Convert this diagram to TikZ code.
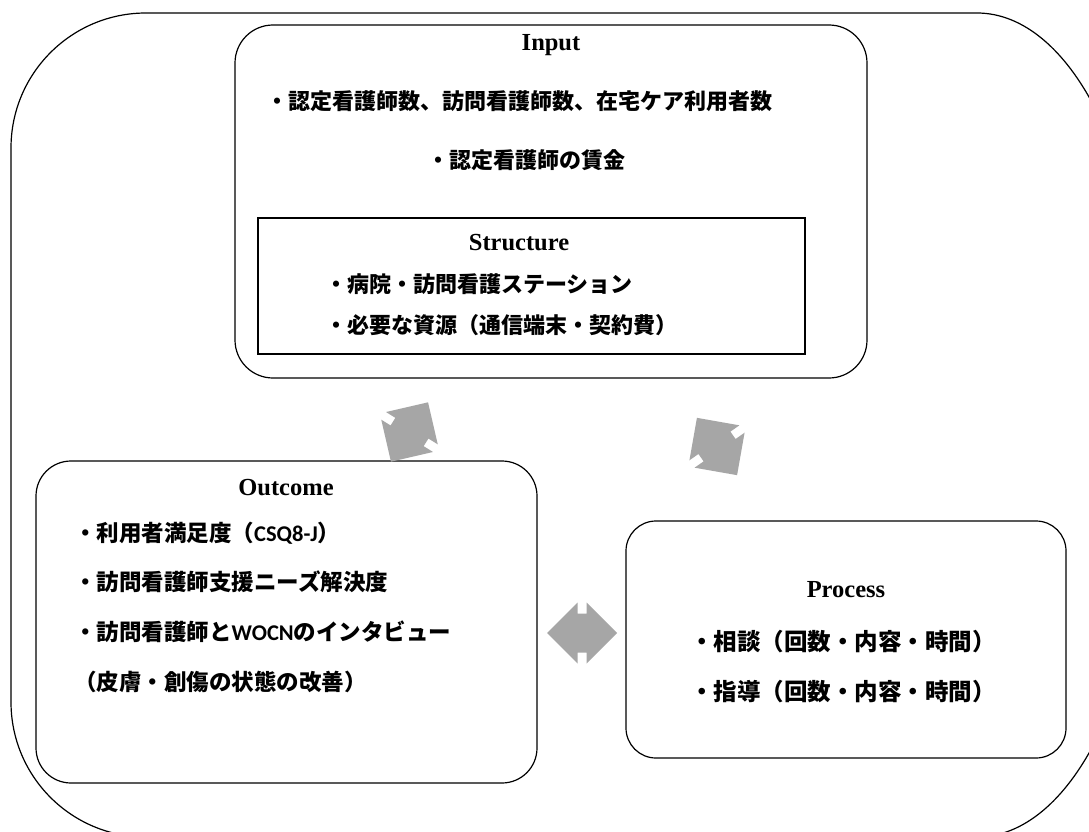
\documentclass[tikz,border=0pt]{standalone}
\usepackage{fontspec}
\setmainfont{Liberation Serif}
\newfontfamily\jp{Noto Sans CJK JP}
\newfontfamily\lat{Carlito}
\definecolor{arrgray}{HTML}{A6A6A6}
\tikzset{
  box/.style={draw, line width=1.2pt, inner sep=0pt},
  ttl/.style={font={\bfseries\fontsize{24.5}{27}\selectfont}, inner sep=0pt},
  jt/.style={font={\jp\bfseries\fontsize{22}{26}\selectfont}, inner sep=0pt},
  jto/.style={font={\jp\bfseries\fontsize{22.5}{26}\selectfont}, inner sep=0pt},
  jtp/.style={font={\jp\bfseries\fontsize{23.5}{26}\selectfont}, inner sep=0pt},
  dblarrow/.pic={
    \fill[arrgray] (-35,0) -- (-4.5,30.5) -- (-4.5,19.5) -- (4.5,19.5) -- (4.5,30.5)
      -- (35,0) -- (4.5,-30.5) -- (4.5,-19.5) -- (-4.5,-19.5) -- (-4.5,-30.5) -- cycle;
  }
}
\begin{document}
\begin{tikzpicture}[x=1pt,y=-1pt]
\useasboundingbox (0,0) rectangle (1089,832);
\clip (0,0) rectangle (1089,832);
\fill[white] (0,0) rectangle (1089,832);
% outer frame
\draw[line width=1.2pt] (11,148) .. controls (11,73.4) and (71.4,13) .. (146,13)
  -- (977,13) .. controls (1069.8,13) and (1145,160.7) .. (1145,343)
  -- (1145,507) .. controls (1145,689.3) and (1069.8,837) .. (977,837)
  -- (146,837) .. controls (71.4,837) and (11,776.6) .. (11,702) -- cycle;
% boxes
\node[box, rounded corners=38pt, minimum width=632pt, minimum height=353pt] (input) at (551,201.5) {};
\node[box, minimum width=547pt, minimum height=136pt] (structure) at (531.5,286) {};
\node[box, rounded corners=35pt, minimum width=501pt, minimum height=322pt] (outcome) at (286.5,622) {};
\node[box, rounded corners=30pt, minimum width=440pt, minimum height=237pt] (process) at (846,639.5) {};
% input texts
\node[ttl] (inputT) at (551,45) {Input};
\node[jt] (in1) at (519,101) {・認定看護師数、訪問看護師数、在宅ケア利用者数};
\node[jt] (in2) at (526,160) {・認定看護師の賃金};
% structure texts
\node[ttl] (structT) at (519,243) {Structure};
\node[jt, anchor=west] (st1) at (325,284) {・病院・訪問看護ステーション};
\node[jt, anchor=west] (st2) at (325,325) {・必要な資源（通信端末・契約費）};
% outcome texts
\node[ttl] (outT) at (286,488) {Outcome};
\node[jto, anchor=west] (o1) at (74,533) {・利用者満足度（{\lat CSQ8-J}）};
\node[jto, anchor=west] (o2) at (74,582) {・訪問看護師支援ニーズ解決度};
\node[jto, anchor=west] (o3) at (74,632) {・訪問看護師と{\lat WOCN}のインタビュー};
\node[jto, anchor=west] (o4) at (74,682) {（皮膚・創傷の状態の改善）};
% process texts
\node[ttl] (procT) at (846,590) {Process};
\node[jtp] (p1) at (843,642) {・相談（回数・内容・時間）};
\node[jtp] (p2) at (843,692) {・指導（回数・内容・時間）};
% arrows
\pic[rotate=58] (arrowL) at (409.5,432) {dblarrow};
\pic[rotate=-55] (arrowR) at (717,446.5) {dblarrow};
\pic (arrowM) at (582,633) {dblarrow};
\end{tikzpicture}
\end{document}
